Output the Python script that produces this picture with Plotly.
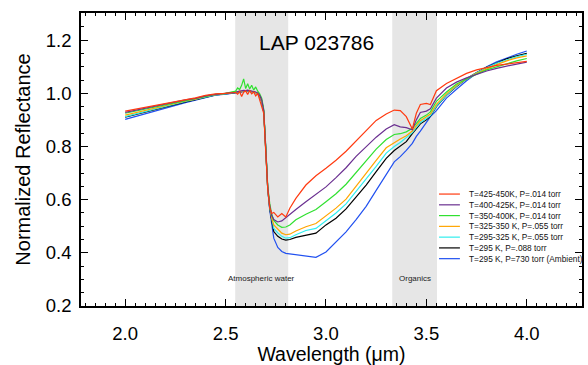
import plotly.graph_objects as go

wavelength = [2.00, 2.05, 2.10, 2.15, 2.20, 2.25, 2.30, 2.35, 2.40, 2.45, 2.50,
              2.55, 2.56, 2.57, 2.58, 2.59, 2.60, 2.61, 2.62, 2.63, 2.64, 2.65, 2.66, 2.67, 2.68, 2.69,
              2.70, 2.71, 2.72, 2.73, 2.74, 2.76, 2.78, 2.80, 2.82, 2.85,
              2.90, 2.95, 3.00, 3.05, 3.10, 3.15, 3.20, 3.25, 3.30,
              3.34, 3.37, 3.40, 3.43, 3.45, 3.47, 3.50, 3.52, 3.55,
              3.60, 3.65, 3.70, 3.75, 3.80, 3.85, 3.90, 3.95, 4.00]

r_425_450 = [0.933, 0.940, 0.947, 0.955, 0.963, 0.970, 0.977, 0.983, 0.992, 0.998, 1.000,
             1.003, 0.997, 1.006, 0.988, 1.004, 1.009, 0.996, 1.010, 0.998, 1.005, 0.990, 1.000, 0.975, 0.958, 0.925,
             0.78, 0.64, 0.570, 0.548, 0.552, 0.535, 0.548, 0.535, 0.568, 0.605,
             0.655, 0.690, 0.718, 0.748, 0.782, 0.820, 0.857, 0.898, 0.922,
             0.937, 0.935, 0.912, 0.866, 0.925, 0.958, 0.962, 0.958, 1.010,
             1.037, 1.057, 1.075, 1.088, 1.097, 1.105, 1.110, 1.116, 1.120]
r_400_425 = [0.928, 0.936, 0.944, 0.952, 0.960, 0.968, 0.975, 0.981, 0.990, 0.996, 0.999,
             1.004, 1.006, 1.008, 1.009, 1.011, 1.010, 1.012, 1.010, 1.009, 1.007, 1.005, 1.001, 0.992, 0.975, 0.935,
             0.79, 0.645, 0.575, 0.540, 0.525, 0.516, 0.520, 0.533, 0.545, 0.563,
             0.592, 0.620, 0.648, 0.683, 0.720, 0.763, 0.800, 0.835, 0.866,
             0.882, 0.874, 0.871, 0.863, 0.900, 0.928, 0.933, 0.942, 0.982,
             1.020, 1.042, 1.058, 1.072, 1.084, 1.094, 1.103, 1.110, 1.117]
r_350_400 = [0.925, 0.933, 0.942, 0.950, 0.958, 0.966, 0.974, 0.980, 0.989, 0.996, 1.000,
             1.008, 1.020, 1.014, 1.030, 1.054, 1.018, 1.036, 1.016, 1.030, 1.012, 1.024, 1.008, 0.998, 0.982, 0.940,
             0.80, 0.65, 0.585, 0.545, 0.522, 0.505, 0.496, 0.497, 0.505, 0.524,
             0.545, 0.563, 0.592, 0.622, 0.658, 0.703, 0.748, 0.790, 0.826,
             0.845, 0.848, 0.855, 0.868, 0.888, 0.905, 0.918, 0.930, 0.970,
             1.005, 1.035, 1.055, 1.072, 1.088, 1.100, 1.112, 1.122, 1.131]
r_325_350 = [0.918, 0.927, 0.937, 0.946, 0.955, 0.963, 0.971, 0.978, 0.988, 0.995, 0.999,
             1.003, 1.005, 1.007, 1.008, 1.010, 1.009, 1.011, 1.009, 1.008, 1.006, 1.004, 1.000, 0.990, 0.972, 0.933,
             0.79, 0.64, 0.575, 0.530, 0.505, 0.488, 0.474, 0.468, 0.470, 0.482,
             0.498, 0.510, 0.538, 0.568, 0.602, 0.652, 0.700, 0.748, 0.795,
             0.815, 0.828, 0.840, 0.858, 0.878, 0.897, 0.912, 0.922, 0.958,
             0.998, 1.030, 1.055, 1.075, 1.093, 1.108, 1.122, 1.133, 1.141]
r_295_325 = [0.912, 0.922, 0.932, 0.942, 0.951, 0.960, 0.969, 0.977, 0.987, 0.994, 0.998,
             1.002, 1.004, 1.006, 1.007, 1.009, 1.008, 1.010, 1.008, 1.007, 1.005, 1.003, 0.999, 0.989, 0.970, 0.932,
             0.79, 0.64, 0.570, 0.522, 0.492, 0.475, 0.462, 0.455, 0.457, 0.468,
             0.484, 0.492, 0.520, 0.550, 0.584, 0.630, 0.675, 0.725, 0.775,
             0.800, 0.815, 0.832, 0.852, 0.872, 0.890, 0.905, 0.916, 0.952,
             0.993, 1.027, 1.055, 1.077, 1.097, 1.113, 1.127, 1.138, 1.147]
r_295_088 = [0.910, 0.920, 0.930, 0.940, 0.950, 0.959, 0.968, 0.976, 0.986, 0.994, 0.998,
             1.002, 1.004, 1.005, 1.007, 1.008, 1.008, 1.010, 1.008, 1.007, 1.005, 1.003, 0.998, 0.988, 0.970, 0.930,
             0.79, 0.64, 0.565, 0.515, 0.480, 0.462, 0.452, 0.448, 0.450, 0.458,
             0.467, 0.474, 0.505, 0.530, 0.565, 0.610, 0.655, 0.705, 0.755,
             0.785, 0.800, 0.818, 0.848, 0.866, 0.885, 0.900, 0.914, 0.950,
             0.992, 1.025, 1.055, 1.078, 1.098, 1.114, 1.130, 1.141, 1.150]
r_ambient = [0.902, 0.913, 0.924, 0.935, 0.945, 0.955, 0.965, 0.974, 0.984, 0.993, 0.997,
             1.000, 1.002, 1.004, 1.006, 1.008, 1.007, 1.009, 1.007, 1.006, 1.004, 1.002, 0.997, 0.987, 0.968, 0.930,
             0.80, 0.64, 0.560, 0.500, 0.455, 0.420, 0.405, 0.398, 0.396, 0.393,
             0.388, 0.383, 0.403, 0.440, 0.479, 0.525, 0.575, 0.635, 0.695,
             0.742, 0.762, 0.785, 0.812, 0.838, 0.858, 0.892, 0.912, 0.935,
             0.982, 1.015, 1.047, 1.075, 1.100, 1.118, 1.134, 1.147, 1.159]

series_labels = ["T=425-450K, P=.014 torr", "T=400-425K, P=.014 torr", "T=350-400K, P=.014 torr",
                 "T=325-350 K, P=.055 torr", "T=295-325 K, P=.055 torr", "T=295 K, P=.088 torr",
                 "T=295 K, P=730 torr (Ambient)"]
series_values = [r_425_450, r_400_425, r_350_400, r_325_350, r_295_325, r_295_088, r_ambient]
series_colors = ["#ff3a10", "#6a2f90", "#30e030", "#ffa500", "#30eeee", "#000000", "#2050f0"]

bands = [("Atmospheric water", 2.548, 2.812), ("Organics", 3.33, 3.553)]

FONT = "Liberation Sans, Arial, Helvetica, sans-serif"

fig = go.Figure()
for lab, vals, col in reversed(list(zip(series_labels, series_values, series_colors))):
    fig.add_trace(go.Scatter(x=wavelength, y=vals, mode="lines", name=lab,
                             line=dict(color=col, width=1.2), showlegend=False))

shapes = []
annotations = []
for name, x0, x1 in bands:
    shapes.append(dict(type="rect", xref="x", yref="paper", x0=x0, x1=x1, y0=0, y1=1,
                       fillcolor="#e6e6e6", line=dict(width=0), layer="below"))
    annotations.append(dict(x=(x0 + x1) / 2, y=0.304, xref="x", yref="y", text=name,
                            showarrow=False, font=dict(size=8, color="#222", family=FONT)))

# manual compact legend
ly0, ldy = 0.621, 0.0405
for i, (lab, col) in enumerate(zip(series_labels, series_colors)):
    yy = ly0 - i * ldy
    shapes.append(dict(type="line", xref="x", yref="y", x0=3.563, x1=3.667, y0=yy, y1=yy,
                       line=dict(color=col, width=1.2)))
    annotations.append(dict(x=3.70, y=yy, xref="x", yref="y", text=lab, showarrow=False,
                            xanchor="left", yanchor="middle",
                            font=dict(size=8.3, color="#111", family=FONT)))

annotations.append(dict(x=2.655, y=1.19, xref="x", yref="y", text="LAP 023786", showarrow=False,
                        xanchor="left", yanchor="middle", font=dict(size=21, color="black", family=FONT)))

axis_common = dict(showline=True, linecolor="black", linewidth=1.5, mirror="ticks",
                   ticks="inside", ticklen=7, tickwidth=1.2, tickcolor="black",
                   showgrid=False, zeroline=False, tickfont=dict(size=18.5, color="black", family=FONT))

fig.update_layout(
    width=588, height=365,
    margin=dict(l=81, r=4, t=13, b=54),
    plot_bgcolor="white", paper_bgcolor="white",
    shapes=shapes, annotations=annotations,
    xaxis=dict(range=[1.78, 4.275], dtick=0.5, tick0=0, tickformat=".1f",
               minor=dict(ticks="inside", ticklen=3.5, dtick=0.05, tickwidth=1, tickcolor="black"),
               title=dict(text="Wavelength (μm)", font=dict(size=19.5, color="black", family=FONT), standoff=3),
               ticklabelstandoff=10, **axis_common),
    yaxis=dict(range=[0.2, 1.302], dtick=0.2, tick0=0, tickformat=".1f",
               minor=dict(ticks="inside", ticklen=3.5, dtick=0.05, tickwidth=1, tickcolor="black"),
               title=dict(text="Normalized Reflectance", font=dict(size=20, color="black", family=FONT), standoff=10),
               ticklabelstandoff=4, **axis_common),
)

fig.write_html("out.html", config={"displayModeBar": False},
               post_script="document.body.style.margin='0px';document.body.style.overflow='hidden';")
